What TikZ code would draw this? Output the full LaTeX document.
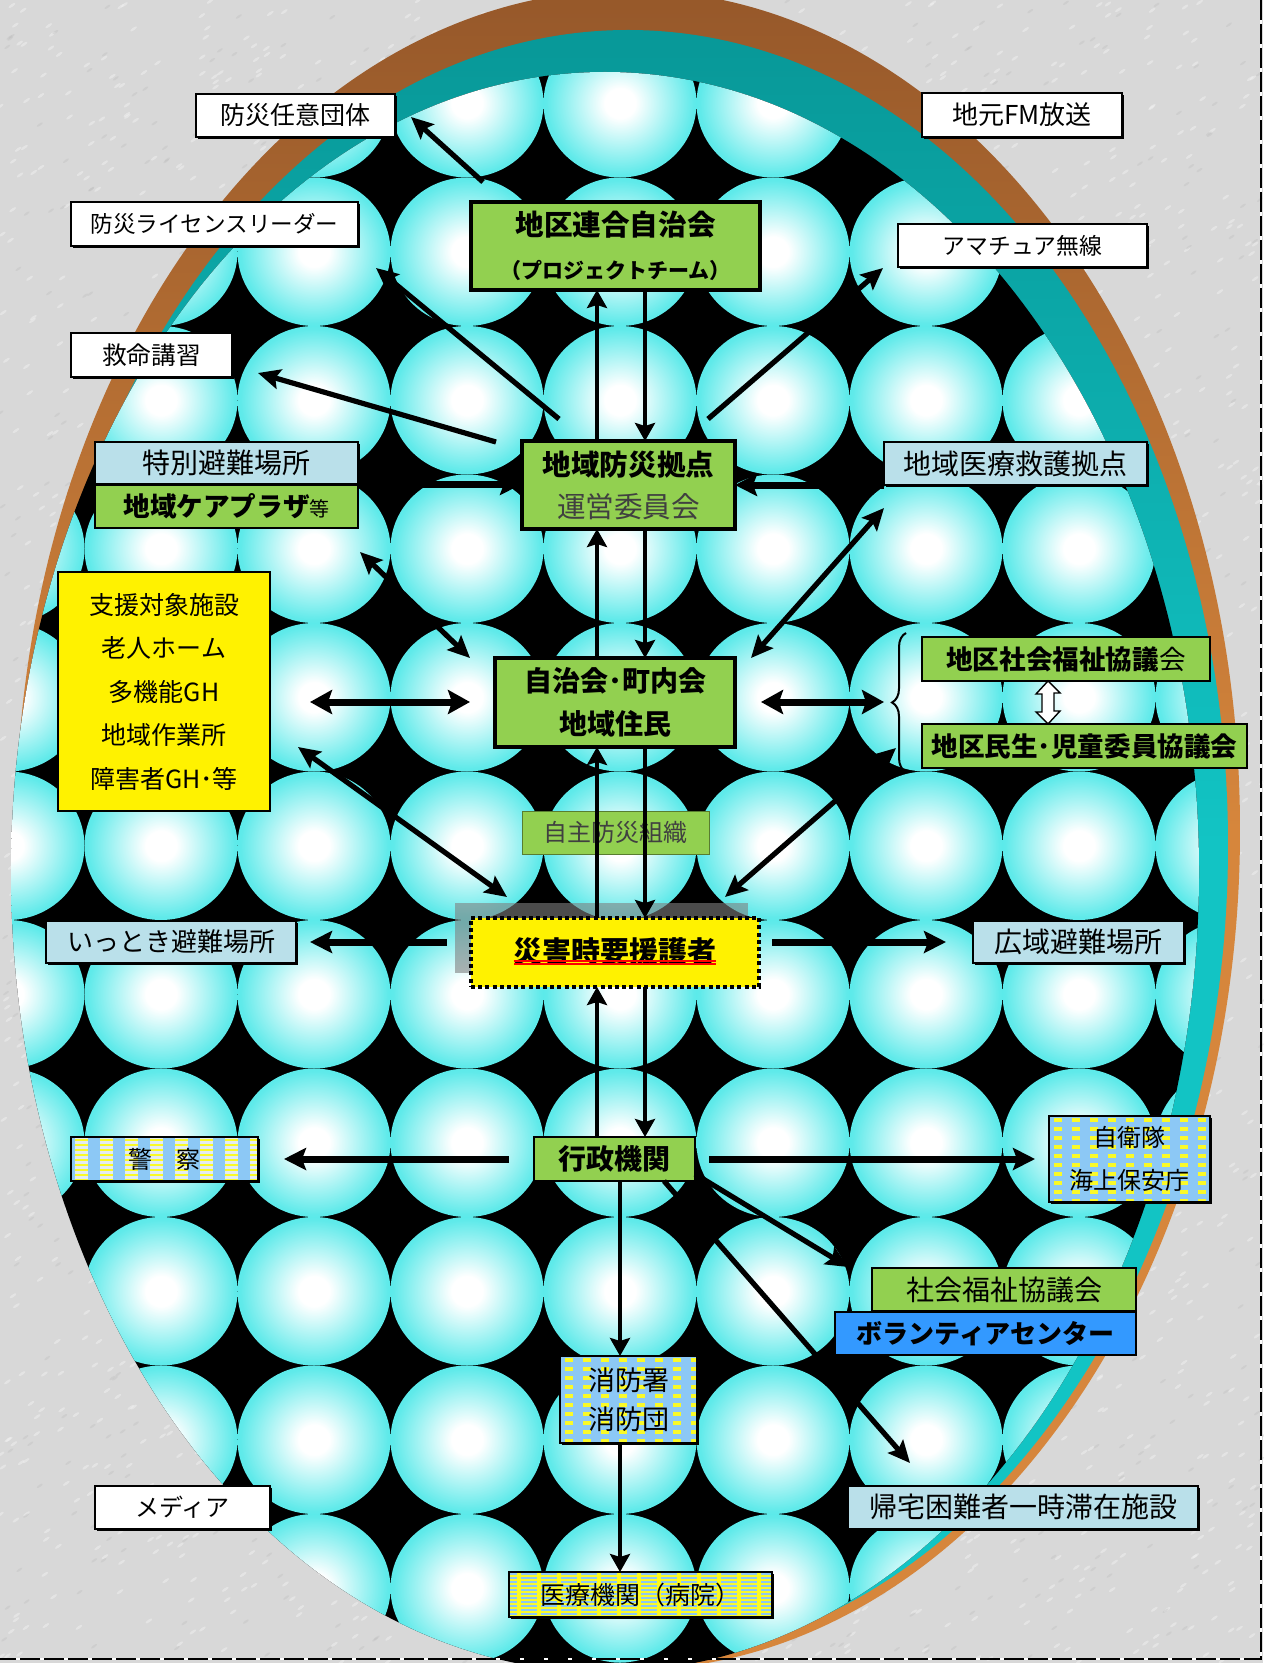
\documentclass[tikz,border=0pt]{standalone}
\usepackage{fontspec}
\setmainfont{Noto Sans CJK JP}
\usetikzlibrary{arrows.meta,shadows,decorations.pathreplacing,calc}

\definecolor{bggray}{RGB}{216,216,216}
\definecolor{flecklight}{RGB}{244,244,244}
\definecolor{fleckdark}{RGB}{188,188,188}
\definecolor{eggbrown}{RGB}{150,88,42}
\definecolor{eggorange}{RGB}{214,134,60}
\definecolor{tealdark}{RGB}{8,152,152}
\definecolor{teallight}{RGB}{18,196,196}
\definecolor{ballout}{RGB}{0,226,226}
\definecolor{ballmid}{RGB}{96,234,234}
\definecolor{boxgreen}{RGB}{146,208,80}
\definecolor{boxblue}{RGB}{186,224,234}
\definecolor{volblue}{RGB}{51,153,255}
\definecolor{patblue}{RGB}{140,200,245}
\definecolor{patyel}{RGB}{250,250,40}
\definecolor{patlight}{RGB}{228,236,242}
\definecolor{txtgray}{RGB}{64,64,64}

\pgfdeclareradialshading{ball}{\pgfpoint{0bp}{0bp}}{color(0bp)=(white); color(5bp)=(white); color(24bp)=(ballmid); color(50bp)=(ballout)}

\newcommand\fz[2]{\fontsize{#1pt}{#2pt}\selectfont}
% box given by its corners in pixel units
\newcommand\rbox[7]{\node[#6, minimum width={(#4-#2)*0.5pt}, minimum height={(#5-#3)*0.5pt}] (#1) at ({(#2+#4)/2},{(#3+#5)/2}) {#7};}

\tikzset{
  base/.style={draw=black, line width=1pt, inner sep=0pt, outer sep=0pt},
  shd/.style={drop shadow={shadow xshift=1pt, shadow yshift=-1pt, fill=black, opacity=1}},
  wbox/.style={base, shd, fill=white},
  bbox/.style={base, shd, fill=boxblue},
  gbox/.style={base, fill=boxgreen},
  gboxk/.style={base, fill=boxgreen, line width=1.8pt},
  ybox/.style={base, fill=yellow},
  vbox/.style={base, fill=volblue},
  sbox/.style={base, fill=yellow, line width=2pt, dash pattern=on 2pt off 1.6pt},
  gpat/.style={base, shd, fill=patblue, path picture={
      \foreach \i in {0,...,12}{\foreach \j in {0,...,12}{
        \fill[patyel] ([xshift={\i*9pt+2.5pt}, yshift={-\j*4.5pt-1.2pt}]path picture bounding box.north west) rectangle ++(4pt,-2pt);}}}},
  kpat/.style={base, shd, fill=patblue, path picture={
      \foreach \i in {0,...,9}{
        \fill[patlight] ([xshift={\i*12.5pt+2pt}]path picture bounding box.north west) rectangle ++(6.5pt,-30pt);
        \foreach \j in {0,...,11}{
          \fill[patyel] ([xshift={\i*12.5pt+2pt}, yshift={-\j*2.5pt-0.8pt}]path picture bounding box.north west) rectangle ++(6.5pt,-1pt);}}}},
  hpat/.style={base, shd, fill=patyel, path picture={
      \foreach \j in {0,...,14}{
        \fill[patblue] ([yshift={-\j*2pt-0.6pt}]path picture bounding box.north west) rectangle ++(140pt,-1pt);}
      \foreach \i in {0,...,14}{
        \fill[patyel] ([xshift={\i*10pt+4pt}]path picture bounding box.north west) rectangle ++(2pt,-30pt);}}},
  harr/.style={line width=3.5pt, -{Stealth[length=11pt,width=11pt,inset=2pt]}},
  darr/.style={line width=3.5pt, {Stealth[length=11pt,width=12pt,inset=2pt]}-{Stealth[length=11pt,width=12pt,inset=2pt]}},
  garr/.style={line width=2.6pt, -{Stealth[length=11pt,width=10pt,inset=2pt]}},
  gdarr/.style={line width=2.6pt, {Stealth[length=11pt,width=10pt,inset=2pt]}-{Stealth[length=11pt,width=10pt,inset=2pt]}},
  varr/.style={line width=2.2pt, -{Stealth[length=9pt,width=10pt,inset=1.5pt]}},
}

\begin{document}
\begin{tikzpicture}[x=0.5pt,y=-0.5pt]
% page with a mottled paper texture
\fill[bggray] (0,0) rectangle (1263,1663);
\useasboundingbox (0,0) rectangle (1263,1663);
\pgfmathsetseed{11}
\foreach \k in {1,...,2600}{
  \pgfmathsetmacro\px{rnd*1263}\pgfmathsetmacro\py{rnd*1663}
  \fill[flecklight, opacity=0.45, rotate around={35:(\px,\py)}] (\px,\py) ellipse [x radius=4, y radius=1.3];
}
\foreach \k in {1,...,1200}{
  \pgfmathsetmacro\px{rnd*1263}\pgfmathsetmacro\py{rnd*1663}
  \fill[fleckdark, opacity=0.35, rotate around={35:(\px,\py)}] (\px,\py) ellipse [x radius=3.5, y radius=1.1];
}

% egg: outer bands and the ball grid inside
\shade[top color=eggbrown, bottom color=eggorange, middle color=eggorange]
  (628,830) ellipse [x radius=612, y radius=840];
\shade[top color=tealdark, bottom color=teallight, middle color=teallight]
  (628,845) ellipse [x radius=600, y radius=815];
\begin{scope}
  \clip (605,872) ellipse [x radius=594, y radius=800];
  \fill[black] (0,0) rectangle (1263,1663);
  \foreach \i in {0,...,8}{
    \foreach \j in {-1,...,11}{
      \shade[shading=ball] ({8+153*\i},{103.25+148.5*\j}) ellipse [x radius=76.5, y radius=74.25];
    }}
\end{scope}

% dashed page edge
\draw[white, line width=1.2pt] (1261,0) -- (1261,1659) -- (0,1659);
\draw[black, line width=1.2pt, dash pattern=on 10pt off 2pt] (1261,0) -- (1261,1659) -- (0,1659);

% shadow behind the central box
\fill[gray, opacity=0.6] (455,903) rectangle (748,973);

% boxes
\rbox{nini}{196}{94}{395}{137}{wbox,font=\fz{12.5}{15}}{防災任意団体}
\rbox{fm}{922}{93}{1122}{137}{wbox,font=\fz{13}{15}}{地元FM放送}
\rbox{license}{71}{202}{358}{246}{wbox,font=\fz{11.3}{14}}{防災ライセンスリーダー}
\rbox{rengo}{471}{202}{760}{290}{gboxk,align=center,font=\bfseries\fz{14.3}{21.5}}{地区連合自治会\\{\fz{10.5}{21.5}（プロジェクトチーム）}}
\rbox{amateur}{898}{224}{1147}{267}{wbox,font=\fz{11.4}{14}}{アマチュア無線}
\rbox{kyumei}{71}{333}{232}{377}{wbox,font=\fz{12.3}{14}}{救命講習}
\rbox{tokubetsu}{95}{442}{358}{484}{bbox,font=\fz{14}{16}}{特別避難場所}
\rbox{care}{95}{485}{358}{528}{gbox,font=\fz{13.3}{16}}{\textbf{地域ケアプラザ}{\fz{10}{12}等}}
\rbox{kyoten}{522}{441}{735}{529}{gboxk,align=center,font=\fz{14.3}{21}}{\textbf{地域防災拠点}\\{\color{txtgray}運営委員会}}
\rbox{iryo}{884}{442}{1147}{485}{bbox,font=\fz{14}{16}}{地域医療救護拠点}
\rbox{shien}{58}{572}{270}{811}{ybox,align=center,font=\fz{12.5}{21.75}}{支援対象施設\\老人ホーム\\多機能GH\\地域作業所\\障害者GH･等}
\rbox{jichi}{495}{658}{735}{747}{gboxk,align=center,font=\bfseries\fz{14}{21.5}}{自治会･町内会\\地域住民}
\rbox{shakyo}{922}{637}{1210}{681}{gbox,font=\fz{13.3}{16}}{\textbf{地区社会福祉協議}会}
\rbox{minsei}{922}{724}{1247}{768}{gbox,font=\bfseries\fz{13.3}{16}}{地区民生･児童委員協議会}
\rbox{jishu}{522}{811}{709}{854}{gbox,draw=boxgreen!60!black,line width=0.5pt,text=txtgray,font=\fz{12}{14}}{自主防災組織}
\rbox{saigai}{471}{918}{759}{987}{sbox,font=\bfseries\fz{14.5}{16}}{\raisebox{2.5pt}{災害時要援護者}}
\rbox{ittoki}{46}{921}{296}{963}{bbox,font=\fz{13}{16}}{いっとき避難場所}
\rbox{koiki}{973}{921}{1184}{963}{bbox,font=\fz{14}{16}}{広域避難場所}
\rbox{keisatsu}{71}{1137}{258}{1181}{kpat,font=\fz{12}{14}}{警　察}
\rbox{gyosei}{534}{1137}{695}{1181}{gbox,font=\bfseries\fz{14}{16}}{行政機関}
\rbox{jieitai}{1049}{1116}{1210}{1202}{gpat,align=center,font=\fz{12}{21.5}}{自衛隊\\海上保安庁}
\rbox{shakyo2}{872}{1268}{1136}{1311}{gbox,font=\fz{14}{16}}{社会福祉協議会}
\rbox{vol}{835}{1312}{1136}{1355}{vbox,font=\bfseries\fz{13}{16}}{ボランティアセンター}
\rbox{shobo}{560}{1356}{697}{1443}{gpat,align=center,font=\fz{13.5}{19.5}}{消防署\\消防団}
\rbox{media}{95}{1486}{270}{1529}{wbox,font=\fz{12}{14}}{メディア}
\rbox{kitaku}{848}{1486}{1198}{1529}{bbox,font=\fz{14}{16}}{帰宅困難者一時滞在施設}
\rbox{iryokikan}{509}{1572}{772}{1617}{hpat,font=\fz{12.5}{14}}{医療機関（病院）}

% double red underline of the central label
\draw[red, line width=0.9pt] ([xshift=-50.5pt,yshift=-4.25pt]saigai.center) -- ([xshift=50.5pt,yshift=-4.25pt]saigai.center);
\draw[red, line width=0.9pt] ([xshift=-50.5pt,yshift=-5.75pt]saigai.center) -- ([xshift=50.5pt,yshift=-5.75pt]saigai.center);

% brace grouping the two district councils, and the hollow link between them
\draw[line width=1pt, decorate, decoration={brace, amplitude=7pt}] (906,772) -- (906,633);
\coordinate (dtop) at (shakyo.south -| 1048,0);
\coordinate (dbot) at (minsei.north -| 1048,0);
\draw[fill=white, line width=0.7pt] (dtop) -- ++(12,12) -- ++(-6,0) -- ++(0,18) -- ++(6,0) -- (dbot)
  -- ++(-12,-12) -- ++(6,0) -- ++(0,-18) -- ++(-6,0) -- cycle;

% vertical spine
\coordinate (upx) at (597,0);
\coordinate (dnx) at (645,0);
\coordinate (cx) at (620,0);
\draw[varr] (kyoten.north -| upx) -- (rengo.south -| upx);
\draw[varr] (rengo.south -| dnx) -- (kyoten.north -| dnx);
\draw[varr] (jichi.north -| upx) -- (kyoten.south -| upx);
\draw[varr] (kyoten.south -| dnx) -- (jichi.north -| dnx);
\draw[varr] (saigai.north -| upx) -- (jichi.south -| upx);
\draw[varr] (jichi.south -| dnx) -- (saigai.north -| dnx);
\draw[varr] (gyosei.north -| upx) -- (saigai.south -| upx);
\draw[varr] (saigai.south -| dnx) -- (gyosei.north -| dnx);
\draw[varr] (gyosei.south -| cx) -- (shobo.north -| cx);
\draw[varr] (shobo.south -| cx) -- (iryokikan.north -| cx);

% free ends of the other connectors
\coordinate (a1s) at (483,182);  \coordinate (a1e) at (411,117);
\coordinate (a2s) at (559,419);  \coordinate (a2e) at (376,268);
\coordinate (a3s) at (496,442);  \coordinate (a3e) at (258,373);
\coordinate (a5s) at (708,419);  \coordinate (a5e) at (883,268);
\coordinate (a9s) at (360,552);  \coordinate (a9e) at (470,658);
\coordinate (a10s) at (884,508); \coordinate (a10e) at (751,658);
\coordinate (a11s) at (310,702); \coordinate (a11e) at (470,702);
\coordinate (a12s) at (761,702); \coordinate (a12e) at (884,702);
\coordinate (a13s) at (298,747); \coordinate (a13e) at (507,897);
\coordinate (a14s) at (896,748); \coordinate (a14e) at (725,897);
\coordinate (a16s) at (447,942); \coordinate (a16e) at (310,942);
\coordinate (a17s) at (772,942); \coordinate (a17e) at (946,942);
\coordinate (a19s) at (509,1159); \coordinate (a19e) at (284,1159);
\coordinate (a20s) at (709,1159); \coordinate (a20e) at (1035,1159);
\coordinate (a21s) at (695,1174); \coordinate (a21e) at (848,1267);
\coordinate (a22s) at (664,1181); \coordinate (a22e) at (910,1463);

\draw[garr] (a1s) -- (a1e);
\draw[garr] (a2s) -- (a2e);
\draw[garr] (a3s) -- (a3e);
\draw[garr] (a5s) -- (a5e);
\draw[harr] (tokubetsu.south east) -- (tokubetsu.south east -| kyoten.west);
\draw[harr] (iryo.south west) -- (iryo.south west -| kyoten.east);
\draw[gdarr] (a9s) -- (a9e);
\draw[gdarr] (a10s) -- (a10e);
\draw[darr] (a11s) -- (a11e);
\draw[darr] (a12s) -- (a12e);
\draw[gdarr] (a13s) -- (a13e);
\draw[gdarr] (a14s) -- (a14e);
\draw[harr] (a16s) -- (a16e);
\draw[harr] (a17s) -- (a17e);
\draw[harr] (a19s) -- (a19e);
\draw[harr] (a20s) -- (a20e);
\draw[garr] (a21s) -- (a21e);
\draw[garr] (a22s) -- (a22e);
\end{tikzpicture}
\end{document}
